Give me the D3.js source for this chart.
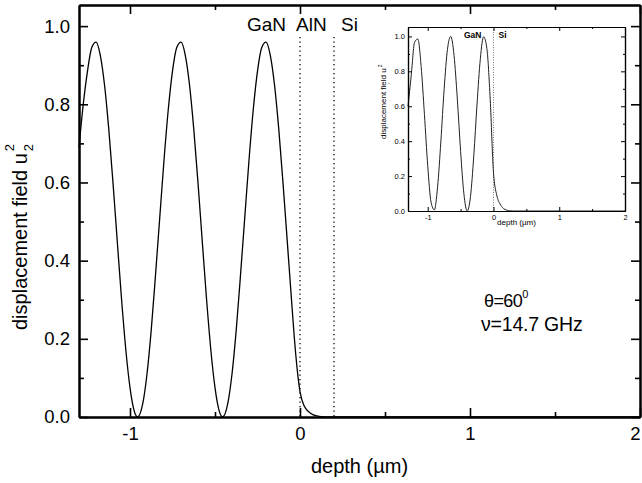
<!DOCTYPE html>
<html>
<head>
<meta charset="utf-8">
<script src="https://cdn.jsdelivr.net/npm/d3@7"></script>
<style>
  html, body { margin: 0; padding: 0; background: #fff; }
  svg { display: block; font-family: "Liberation Sans", Arial, Helvetica, sans-serif; }
</style>
</head>
<body>
<svg id="chart" width="642" height="483"></svg>
<script>
"use strict";

// main curve: u2^2 against depth (um)
const depth = [
  -1.300, -1.275, -1.250, -1.225, -1.200, -1.175, -1.150, -1.125, -1.100, -1.075,
  -1.050, -1.025, -1.000, -0.975, -0.955, -0.925, -0.900, -0.875, -0.850, -0.825,
  -0.800, -0.775, -0.750, -0.725, -0.700, -0.675, -0.650, -0.625, -0.600, -0.575,
  -0.550, -0.525, -0.500, -0.475, -0.455, -0.425, -0.400, -0.375, -0.350, -0.325,
  -0.300, -0.275, -0.250, -0.225, -0.200, -0.175, -0.150, -0.125, -0.100, -0.075,
  -0.050, -0.025, 0.000, 0.025, 0.050, 0.075, 0.100, 0.125, 0.150, 0.200,
  0.500, 1.000, 1.500, 2.000
];
const u2 = [
  0.690, 0.800, 0.885, 0.945, 0.959, 0.926, 0.850, 0.737, 0.599, 0.450,
  0.303, 0.174, 0.075, 0.015, 0.000, 0.034, 0.110, 0.223, 0.363, 0.510,
  0.657, 0.786, 0.885, 0.945, 0.959, 0.926, 0.850, 0.737, 0.599, 0.450,
  0.303, 0.174, 0.075, 0.015, 0.000, 0.034, 0.110, 0.223, 0.363, 0.510,
  0.657, 0.786, 0.885, 0.945, 0.959, 0.926, 0.850, 0.737, 0.599, 0.450,
  0.300, 0.160, 0.065, 0.028, 0.014, 0.006, 0.003, 0.001, 0.000, 0.000,
  0.000, 0.000, 0.000, 0.000
];

// inset curve
const insetDepth = [
  -1.30, -1.25, -1.20, -1.15, -1.10, -1.05, -1.00, -0.95, -0.90, -0.85,
  -0.80, -0.75, -0.70, -0.65, -0.60, -0.55, -0.50, -0.45, -0.40, -0.35,
  -0.30, -0.25, -0.20, -0.15, -0.10, -0.05, 0.00, 0.05, 0.10, 0.15,
  0.20, 0.25, 0.30, 1.00, 2.00
];
const insetU = [
  0.600, 0.780, 0.967, 0.985, 0.828, 0.553, 0.259, 0.052, 0.006, 0.138,
  0.400, 0.700, 0.926, 1.000, 0.892, 0.642, 0.342, 0.099, 0.000, 0.082,
  0.314, 0.613, 0.872, 0.998, 0.930, 0.640, 0.220, 0.090, 0.040, 0.015,
  0.005, 0.001, 0.000, 0.000, 0.000
];

const xTicks = [-1, 0, 1, 2];
const xMinor = [-0.5, 0.5, 1.5];
const yTicks = [0, 0.2, 0.4, 0.6, 0.8, 1.0];
const yMinor = [0.1, 0.3, 0.5, 0.7, 0.9];
const layerEdges = [0, 0.2];           // GaN | AlN | Si interfaces
const layerNames = ["GaN", "AlN", "Si"];
const insetLayerNames = ["GaN", "Si"];
const angleText = "θ=60";
const freqText = "ν=14.7 GHz";

const svg = d3.select("#chart");

function drawFrame(g, x, y, o) {
  const [x0, x1] = x.range();
  const [y0, y1] = y.range();
  const fmtX = (d) => String(d);
  const fmtY = d3.format(".1f");

  const axes = [
    [d3.axisBottom(x).tickValues(xTicks).tickSize(-o.major).tickPadding(o.padX).tickFormat(fmtX), `translate(0,${y0})`, "bottom"],
    [d3.axisBottom(x).tickValues(xMinor).tickSize(-o.minor).tickFormat(""), `translate(0,${y0})`],
    [d3.axisTop(x).tickValues(xTicks).tickSize(-o.major).tickFormat(""), `translate(0,${y1})`],
    [d3.axisTop(x).tickValues(xMinor).tickSize(-o.minor).tickFormat(""), `translate(0,${y1})`],
    [d3.axisLeft(y).tickValues(yTicks).tickSize(-o.major).tickPadding(o.padY).tickFormat(fmtY), `translate(${x0},0)`],
    [d3.axisLeft(y).tickValues(yMinor).tickSize(-o.minor).tickFormat(""), `translate(${x0},0)`],
    [d3.axisRight(y).tickValues(yTicks).tickSize(-o.major).tickFormat(""), `translate(${x1},0)`],
    [d3.axisRight(y).tickValues(yMinor).tickSize(-o.minor).tickFormat(""), `translate(${x1},0)`]
  ];
  axes.forEach(([ax, tr, kind]) => {
    const a = g.append("g").attr("transform", tr).call(ax.tickSizeOuter(0));
    a.select(".domain").attr("stroke", "#000").attr("stroke-width", o.domainW);
    a.selectAll(".tick line").attr("stroke", "#000").attr("stroke-width", o.tickW);
    a.selectAll(".tick text")
      .attr("fill", "#000")
      .style("font-size", o.font + "px")
      .style("font-family", "'Liberation Sans', Arial, sans-serif");
    // the last x label sits on the page edge in the main panel; keep it inside
    if (kind === "bottom" && o.clampLast) {
      a.selectAll(".tick text").filter((d) => d === xTicks[xTicks.length - 1])
        .attr("text-anchor", "end").attr("dx", 0);
    }
  });
}

function draw() {
  // ---- main panel ----
  const x = d3.scaleLinear().domain([-1.3, 2]).range([79, 640]);
  const y = d3.scaleLinear().domain([0, 1.054]).range([417, 5]);

  const main = svg.append("g");

  main.selectAll("line.layer")
    .data(layerEdges)
    .join("line")
    .attr("class", "layer")
    .attr("x1", (d) => x(d)).attr("x2", (d) => x(d))
    .attr("y1", 37).attr("y2", y(0))
    .attr("stroke", "#000")
    .attr("stroke-width", 1.3)
    .attr("stroke-dasharray", "1.3,3.2");

  const line = d3.line()
    .x((d, i) => x(depth[i]))
    .y((d) => y(d))
    .curve(d3.curveMonotoneX);

  main.append("path")
    .datum(u2)
    .attr("d", line)
    .attr("fill", "none")
    .attr("stroke", "#000")
    .attr("stroke-width", 1.3);

  drawFrame(main, x, y, { major: 9, minor: 5, padX: 10, padY: 9, domainW: 2, tickW: 1.6, font: 18.5, clampLast: true });

  // layer labels at the top
  const lab = main.append("g").style("font-size", "19px").attr("fill", "#000");
  lab.append("text").attr("x", x(layerEdges[0]) - 14).attr("y", 31).attr("text-anchor", "end").text(layerNames[0]);
  lab.append("text").attr("x", x(layerEdges[0]) - 4).attr("y", 31).text(layerNames[1]);
  lab.append("text").attr("x", x(layerEdges[1]) + 7).attr("y", 31).text(layerNames[2]);

  // annotation
  const ann = main.append("g").attr("fill", "#000");
  const t1 = ann.append("text").attr("x", 484).attr("y", 307).style("font-size", "18px").attr("letter-spacing", -0.6);
  t1.append("tspan").text(angleText);
  t1.append("tspan").attr("dy", -9).style("font-size", "11px").text("0");
  ann.append("text").attr("x", 481).attr("y", 331).style("font-size", "19.5px").attr("letter-spacing", -0.2).text(freqText);

  // axis titles
  main.append("text")
    .attr("x", (x.range()[0] + x.range()[1]) / 2)
    .attr("y", 473)
    .attr("text-anchor", "middle")
    .style("font-size", "20px")
    .text("depth (µm)");

  const yt = main.append("g").attr("transform", "translate(27,330) rotate(-90)");
  const ytMain = yt.append("text").style("font-size", "20px").text("displacement field u");
  const len = ytMain.node().getComputedTextLength();
  yt.append("text").attr("x", len + 2).attr("y", 6).style("font-size", "13px").text("2");
  yt.append("text").attr("x", len + 2).attr("y", -13).style("font-size", "13px").text("2");

  // ---- inset ----
  const ix = d3.scaleLinear().domain([-1.3, 2]).range([408, 625]);
  const iy = d3.scaleLinear().domain([0, 1.054]).range([211, 27]);
  const inset = svg.append("g");

  inset.append("rect")
    .attr("x", 408).attr("y", 27)
    .attr("width", 625 - 408).attr("height", 211 - 27)
    .attr("fill", "#fff");

  inset.append("line")
    .attr("x1", ix(0)).attr("x2", ix(0))
    .attr("y1", iy.range()[1]).attr("y2", iy.range()[0])
    .attr("stroke", "#777")
    .attr("stroke-width", 1)
    .attr("stroke-dasharray", "1,1.5");

  const iline = d3.line()
    .x((d, i) => ix(insetDepth[i]))
    .y((d) => iy(d))
    .curve(d3.curveMonotoneX);

  inset.append("path")
    .datum(insetU)
    .attr("d", iline)
    .attr("fill", "none")
    .attr("stroke", "#222")
    .attr("stroke-width", 1);

  drawFrame(inset, ix, iy, { major: 4, minor: 2, padX: 4, padY: 3, domainW: 1.2, tickW: 1, font: 7.5 });

  const ilab = inset.append("g").style("font-size", "8.5px").style("font-weight", "bold").attr("fill", "#000");
  ilab.append("text").attr("x", ix(0) - 12).attr("y", 38).attr("text-anchor", "end").text(insetLayerNames[0]);
  ilab.append("text").attr("x", ix(0) + 5).attr("y", 38).text(insetLayerNames[1]);

  inset.append("text")
    .attr("x", (ix.range()[0] + ix.range()[1]) / 2)
    .attr("y", 225)
    .attr("text-anchor", "middle")
    .style("font-size", "8px")
    .text("depth (µm)");

  const iyt = inset.append("g").attr("transform", "translate(386,139) rotate(-90)");
  const iytMain = iyt.append("text").style("font-size", "8px").text("displacement field u");
  const ilen = iytMain.node().getComputedTextLength();
  iyt.append("text").attr("x", ilen + 1).attr("y", -4).style("font-size", "5px").text("2");
  iyt.append("text").attr("x", ilen - 16).attr("y", 3).style("font-size", "5px").text(",");
}

draw();
</script>
</body>
</html>
